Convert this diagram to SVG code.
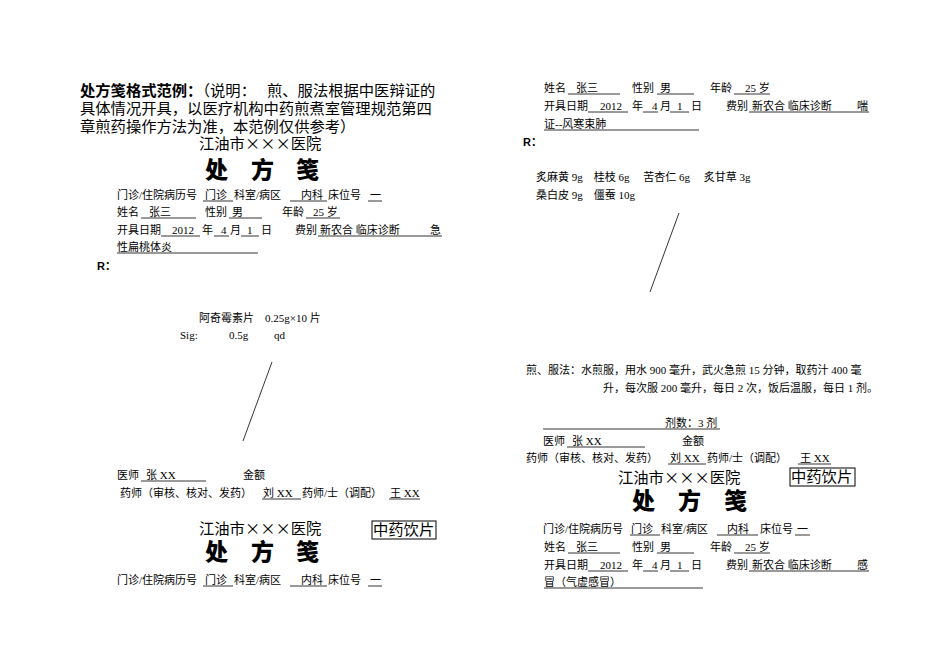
<svg xmlns="http://www.w3.org/2000/svg" width="950" height="672" viewBox="0 0 950 672">
<style>
text{font-family:"Liberation Serif","Noto Sans CJK SC",serif;font-size:11px;fill:#000}
.h{font-family:"Noto Sans CJK SC",sans-serif;font-size:15.3px}
.hb{font-weight:bold}
.t{font-family:"Noto Sans CJK SC",sans-serif;font-size:23px;font-weight:900}
.r{font-family:"Liberation Sans","Noto Sans CJK SC",sans-serif;font-weight:bold;font-size:11px}
line{stroke:#000;stroke-width:0.8}
rect{fill:none;stroke:#000;stroke-width:1}
</style>
<rect x="0" y="0" width="950" height="672" style="fill:#fff;stroke:none"/>
<g id="intro">
<text class="h" x="80" y="96"><tspan class="hb">处方笺格式范例：</tspan>（说明：　 煎、服法根据中医辩证的</text>
<text class="h" x="80" y="114">具体情况开具，以医疗机构中药煎煮室管理规范第四</text>
<text class="h" x="80" y="132">章煎药操作方法为准，本范例仅供参考）</text>
</g>
<g id="left-rx1">
<text class="h" x="199" y="149">江油市×××医院</text>
<text class="t" x="205" y="178">处</text><text class="t" x="251" y="178">方</text><text class="t" x="296" y="178">笺</text>
<text x="117" y="199">门诊/住院病历号</text><text x="205" y="199">门诊</text><text x="234" y="199">科室/病区</text><text x="301" y="199">内科</text><text x="328" y="199">床位号</text><text x="370" y="199">一</text>
<line x1="203" y1="201" x2="233" y2="201"/><line x1="290" y1="201" x2="327" y2="201"/><line x1="368" y1="201" x2="382" y2="201"/>
<text x="117" y="216">姓名</text><text x="149" y="216">张三</text><text x="205" y="216">性别</text><text x="232" y="216">男</text><text x="282" y="216">年龄</text><text x="313" y="216">25 岁</text>
<line x1="141" y1="218" x2="196" y2="218"/><line x1="229" y1="218" x2="262" y2="218"/><line x1="306" y1="218" x2="340" y2="218"/>
<text x="117" y="234">开具日期</text><text x="172" y="234">2012</text><text x="202" y="234">年</text><text x="221" y="234">4</text><text x="230" y="234">月</text><text x="247" y="234">1</text><text x="261" y="234">日</text><text x="295" y="234">费别</text><text x="320" y="234">新农合 临床诊断</text><text x="430" y="234">急</text>
<line x1="161" y1="236" x2="200" y2="236"/><line x1="214" y1="236" x2="229" y2="236"/><line x1="241" y1="236" x2="259" y2="236"/><line x1="318" y1="236" x2="442" y2="236"/>
<text x="117" y="251">性扁桃体炎</text><line x1="117" y1="253" x2="258" y2="253"/>
<text class="r" x="97" y="270">R：</text>
<text x="199" y="322">阿奇霉素片　0.25g×10 片</text>
<text x="180" y="339">Sig:</text><text x="229" y="339">0.5g</text><text x="274" y="339">qd</text>
<line x1="272" y1="362" x2="243" y2="441"/>
<text x="117" y="479">医师</text><text x="146" y="479">张 XX</text><text x="243" y="479">金额</text>
<line x1="141" y1="481" x2="206" y2="481"/>
<text x="120" y="497">药师（审核、核对、发药）</text><text x="263" y="497">刘 XX</text><text x="302" y="497">药师/士（调配）</text><text x="390" y="497">王 XX</text>
<line x1="262" y1="499" x2="301" y2="499"/><line x1="389" y1="499" x2="420" y2="499"/>
</g>
<g id="left-rx2">
<text class="h" x="199" y="534">江油市×××医院</text>
<rect x="372" y="521" width="64" height="18"/><text class="h" x="373" y="535">中药饮片</text>
<text class="t" x="205" y="560">处</text><text class="t" x="251" y="560">方</text><text class="t" x="296" y="560">笺</text>
<text x="117" y="584">门诊/住院病历号</text><text x="205" y="584">门诊</text><text x="234" y="584">科室/病区</text><text x="301" y="584">内科</text><text x="328" y="584">床位号</text><text x="370" y="584">一</text>
<line x1="203" y1="586" x2="233" y2="586"/><line x1="290" y1="586" x2="327" y2="586"/><line x1="368" y1="586" x2="382" y2="586"/>
</g>
<g id="right-rx1">
<text x="544" y="92">姓名</text><text x="576" y="92">张三</text><text x="632" y="92">性别</text><text x="660" y="92">男</text><text x="710" y="92">年龄</text><text x="745" y="92">25 岁</text>
<line x1="568" y1="94" x2="620" y2="94"/><line x1="657" y1="94" x2="694" y2="94"/><line x1="734" y1="94" x2="770" y2="94"/>
<text x="544" y="110">开具日期</text><text x="600" y="110">2012</text><text x="632" y="110">年</text><text x="652" y="110">4</text><text x="660" y="110">月</text><text x="677" y="110">1</text><text x="691" y="110">日</text><text x="726" y="110">费别</text><text x="752" y="110">新农合 临床诊断</text><text x="857" y="110">喘</text>
<line x1="588" y1="112" x2="628" y2="112"/><line x1="643" y1="112" x2="658" y2="112"/><line x1="670" y1="112" x2="689" y2="112"/><line x1="749" y1="112" x2="869" y2="112"/>
<text x="544" y="128">证--风寒束肺</text><line x1="544" y1="130" x2="699" y2="130"/>
<text class="r" x="523" y="146">R：</text>
<text x="536" y="181">炙麻黄 9g　桂枝 6g　 苦杏仁 6g　 炙甘草 3g</text>
<text x="536" y="199">桑白皮 9g　僵蚕 10g</text>
<line x1="679" y1="213" x2="650" y2="292"/>
<text x="526" y="374">煎、服法：水煎服，用水 900 毫升，武火急煎 15 分钟，取药汁 400 毫</text>
<text x="603" y="392">升，每次服 200 毫升，每日 2 次，饭后温服，每日 1 剂。</text>
<text x="665" y="427">剂数：3 剂</text><line x1="543" y1="429" x2="720" y2="429"/>
<text x="543" y="445">医师</text><text x="572" y="445">张 XX</text><text x="682" y="445">金额</text>
<line x1="567" y1="447" x2="645" y2="447"/>
<text x="526" y="462">药师（审核、核对、发药）</text><text x="670" y="462">刘 XX</text><text x="707" y="462">药师/士（调配）</text><text x="800" y="462">王 XX</text>
<line x1="668" y1="464" x2="706" y2="464"/><line x1="798" y1="464" x2="831" y2="464"/>
</g>
<g id="right-rx2">
<text class="h" x="618" y="483">江油市×××医院</text>
<rect x="790" y="468" width="65" height="18"/><text class="h" x="791" y="482">中药饮片</text>
<text class="t" x="632" y="509">处</text><text class="t" x="678" y="509">方</text><text class="t" x="724" y="509">笺</text>
<text x="543" y="533">门诊/住院病历号</text><text x="631" y="533">门诊</text><text x="661" y="533">科室/病区</text><text x="727" y="533">内科</text><text x="760" y="533">床位号</text><text x="797" y="533">一</text>
<line x1="630" y1="535" x2="660" y2="535"/><line x1="717" y1="535" x2="758" y2="535"/><line x1="795" y1="535" x2="810" y2="535"/>
<text x="544" y="551">姓名</text><text x="576" y="551">张三</text><text x="632" y="551">性别</text><text x="660" y="551">男</text><text x="710" y="551">年龄</text><text x="745" y="551">25 岁</text>
<line x1="568" y1="553" x2="620" y2="553"/><line x1="657" y1="553" x2="694" y2="553"/><line x1="734" y1="553" x2="770" y2="553"/>
<text x="544" y="569">开具日期</text><text x="600" y="569">2012</text><text x="632" y="569">年</text><text x="652" y="569">4</text><text x="660" y="569">月</text><text x="677" y="569">1</text><text x="691" y="569">日</text><text x="726" y="569">费别</text><text x="752" y="569">新农合 临床诊断</text><text x="857" y="569">感</text>
<line x1="588" y1="571" x2="628" y2="571"/><line x1="643" y1="571" x2="658" y2="571"/><line x1="670" y1="571" x2="689" y2="571"/><line x1="749" y1="571" x2="869" y2="571"/>
<text x="544" y="586">冒（气虚感冒）</text><line x1="544" y1="588" x2="703" y2="588"/>
</g>
</svg>
